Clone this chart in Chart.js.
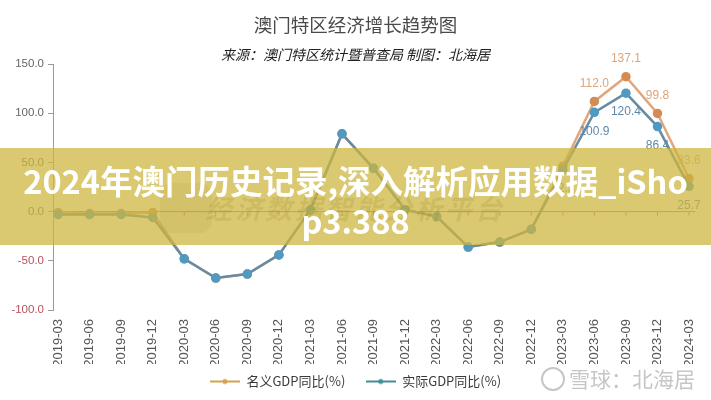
<!doctype html>
<html>
<head>
    <meta charset="utf-8">
    <title>澳门特区经济增长趋势图</title>
    <script src="https://cdn.jsdelivr.net/npm/chart.js"></script>
    <style>
        body { margin: 0; background: #fff; }
        .wrap { position: relative; width: 711px; height: 400px; overflow: hidden; }
        #chart { position: absolute; left: 0; top: 0; }
        .banner {
            position: absolute; left: 0; top: 148px; width: 711px; height: 97px;
            background: rgba(205, 182, 62, 0.74);
        }
        .mark {
            position: absolute; left: 205px; top: 188px; font: italic bold 27px "Noto Sans CJK SC";
            color: rgba(150, 130, 40, 0.18); letter-spacing: 3px;
        }
        .logo {
            position: absolute; left: 160px; top: 183px; width: 52px; height: 50px; border-radius: 12px;
            background: rgba(150, 130, 40, 0.1);
        }
        .headline {
            position: absolute; left: 0; top: 160px; width: 711px; text-align: center;
            font: bold 32.5px/40px "Noto Sans CJK SC", sans-serif; color: #fff; white-space: nowrap;
        }
        .xq {
            position: absolute; left: 541px; top: 363px; font: 21px "Noto Sans CJK SC";
            color: #c6c6c6;
        }
        .xq span {
            display: inline-block; width: 20px; height: 20px; border: 2px solid #c6c6c6; border-radius: 50%;
            vertical-align: -4px; margin-right: 4px;
        }
    </style>
</head>

<body>
    <div class="wrap">
        <canvas id="chart" width="711" height="400"></canvas>
        <div class="banner"></div>
        <div class="logo"></div>
        <div class="mark">经济数据智能分析平台</div>
        <div class="headline">2024年澳门历史记录,深入解析应用数据_iSho<br>p3.388</div>
        <div class="xq"><span></span>雪球：北海居</div>
    </div>

    <script>
        // Quarter labels and the two growth series (%)
        var quarters = ['2019-03', '2019-06', '2019-09', '2019-12', '2020-03', '2020-06', '2020-09', '2020-12',
                        '2021-03', '2021-06', '2021-09', '2021-12', '2022-03', '2022-06', '2022-09', '2022-12',
                        '2023-03', '2023-06', '2023-09', '2023-12', '2024-03'];
        var nominalGdp = [-1.0, -2.0, -2.0, -1.0, -48.0, -67.5, -63.5, -44.0,
                          2.0, 79.0, 44.0, 2.0, -5.0, -36.0, -31.0, -18.0,
                          46.0, 112.0, 137.1, 99.8, 33.6];
        var realGdp = [-3.0, -3.0, -3.0, -6.0, -48.0, -67.5, -63.5, -44.0,
                       2.0, 79.0, 44.0, 2.0, -5.0, -36.0, -31.0, -18.0,
                       42.3, 100.9, 120.4, 86.4, 25.7];
        var yTicks = [150, 100, 50, 0, -50, -100];
        var nominalLabelFrom = 17;   // first quarter with a printed value
        var realLabelFrom = 16;

        // legend marker: short line with a dot
        function legendIcon(color) {
            var c = document.createElement('canvas');
            c.width = 30; c.height = 10;
            var g = c.getContext('2d');
            g.strokeStyle = color; g.lineWidth = 2;
            g.beginPath(); g.moveTo(0, 5); g.lineTo(30, 5); g.stroke();
            g.fillStyle = color;
            g.beginPath(); g.arc(15, 5, 2.5, 0, Math.PI * 2); g.fill();
            return c;
        }

        // horizontal axis drawn at zero, with small ticks
        var zeroAxis = {
            id: 'zeroAxis',
            beforeDatasetsDraw: function(chart) {
                var ctx = chart.ctx, a = chart.chartArea;
                var y = chart.scales.y.getPixelForValue(0), x = chart.scales.x;
                ctx.save();
                ctx.strokeStyle = '#c47058'; ctx.lineWidth = 1;
                ctx.beginPath(); ctx.moveTo(a.left, y); ctx.lineTo(x.getPixelForValue(quarters.length - 0.8), y);
                quarters.forEach(function(q, i) {
                    var px = x.getPixelForValue(i);
                    ctx.moveTo(px, y); ctx.lineTo(px, y + 4);
                });
                ctx.stroke();
                ctx.restore();
            }
        };

        // value labels on the last quarters
        var valueLabels = {
            id: 'valueLabels',
            afterDatasetsDraw: function(chart) {
                var ctx = chart.ctx;
                ctx.save();
                ctx.font = '12px "Liberation Sans Narrow", Arial';
                ctx.textAlign = 'center'; ctx.textBaseline = 'middle';
                chart.data.datasets.forEach(function(ds, di) {
                    var meta = chart.getDatasetMeta(di);
                    meta.data.forEach(function(pt, i) {
                        if (i < ds.labelFrom) return;
                        ctx.fillStyle = ds.labelColor;
                        ctx.fillText(ds.data[i].y.toFixed(1), pt.x, pt.y + ds.labelShift);
                    });
                });
                ctx.restore();
            }
        };

        var ctx = document.getElementById('chart').getContext('2d');
        var chart = new Chart(ctx, {
            type: 'line',
            data: {
                datasets: [{
                    label: '名义GDP同比(%)',
                    data: nominalGdp.map(function(v, i) { return { x: i, y: v }; }),
                    borderColor: '#e0a67c',
                    backgroundColor: '#d38c54',
                    pointBackgroundColor: '#d38c54',
                    pointBorderColor: '#d38c54',
                    borderWidth: 2.5,
                    pointRadius: 3.5,
                    labelColor: '#dca57e',
                    labelShift: -18,
                    labelFrom: nominalLabelFrom,
                    legendColor: '#d9a04c',
                    order: 2
                }, {
                    label: '实际GDP同比(%)',
                    data: realGdp.map(function(v, i) { return { x: i, y: v }; }),
                    borderColor: '#658ca4',
                    backgroundColor: '#4f9ac2',
                    pointBackgroundColor: '#4f9ac2',
                    pointBorderColor: '#4f9ac2',
                    borderWidth: 2.5,
                    pointRadius: 3.5,
                    labelColor: '#5d89a6',
                    labelShift: 19,
                    labelFrom: realLabelFrom,
                    legendColor: '#3f8f96',
                    order: 1
                }]
            },
            options: {
                responsive: false,
                animation: false,
                layout: { padding: { left: 0, right: 0, top: 0, bottom: 2 } },
                plugins: {
                    title: {
                        display: true,
                        text: '澳门特区经济增长趋势图',
                        color: '#4a4a4a',
                        font: { family: 'Noto Sans CJK SC', size: 18.5, weight: 'normal' },
                        padding: { top: 14, bottom: 10 }
                    },
                    subtitle: {
                        display: true,
                        text: '来源：澳门特区统计暨普查局 制图：北海居',
                        color: '#222',
                        font: { family: 'Noto Sans CJK SC', size: 14, style: 'italic' },
                        padding: { top: 0, bottom: 1 }
                    },
                    legend: {
                        position: 'bottom',
                        labels: {
                            color: '#3a3a3a',
                            font: { family: 'Noto Sans CJK SC', size: 13 },
                            usePointStyle: true,
                            pointStyleWidth: 30,
                            padding: 11,
                            generateLabels: function(chart) {
                                return chart.data.datasets.map(function(ds, i) {
                                    // extra gap after the first entry
                                    var text = i === 0 ? ds.label + '\u2002 ' : ds.label;
                                    return { text: text, pointStyle: legendIcon(ds.legendColor),
                                             fontColor: '#3a3a3a', datasetIndex: i, lineWidth: 0 };
                                });
                            }
                        }
                    },
                    tooltip: { enabled: false }
                },
                scales: {
                    x: {
                        type: 'linear',
                        min: -0.16,
                        max: 20.49,
                        afterBuildTicks: function(scale) {
                            scale.ticks = quarters.map(function(q, i) { return { value: i }; });
                        },
                        afterFit: function(scale) { scale.height = 54; },
                        grid: { display: false },
                        border: { display: false },
                        ticks: {
                            autoSkip: false,
                            minRotation: 90,
                            maxRotation: 90,
                            padding: 1,
                            color: '#555',
                            font: { family: 'Liberation Sans Narrow, Arial', size: 13 },
                            callback: function(v) { return quarters[v]; }
                        }
                    },
                    y: {
                        min: -100,
                        max: 150,
                        afterBuildTicks: function(scale) {
                            scale.ticks = yTicks.map(function(v) { return { value: v }; });
                        },
                        afterFit: function(scale) { scale.width = 53; },
                        border: { display: true, color: '#9a9a9a', width: 1 },
                        grid: { drawOnChartArea: false, tickLength: 5, color: '#9a9a9a' },
                        ticks: {
                            padding: 4,
                            font: { family: 'Liberation Sans Narrow, Arial', size: 11.5 },
                            color: function(c) { return c.tick.value < 0 ? '#b8525a' : '#666'; },
                            callback: function(v) { return v.toFixed(1); }
                        }
                    }
                }
            },
            plugins: [zeroAxis, valueLabels]
        });
    </script>
</body>
</html>
